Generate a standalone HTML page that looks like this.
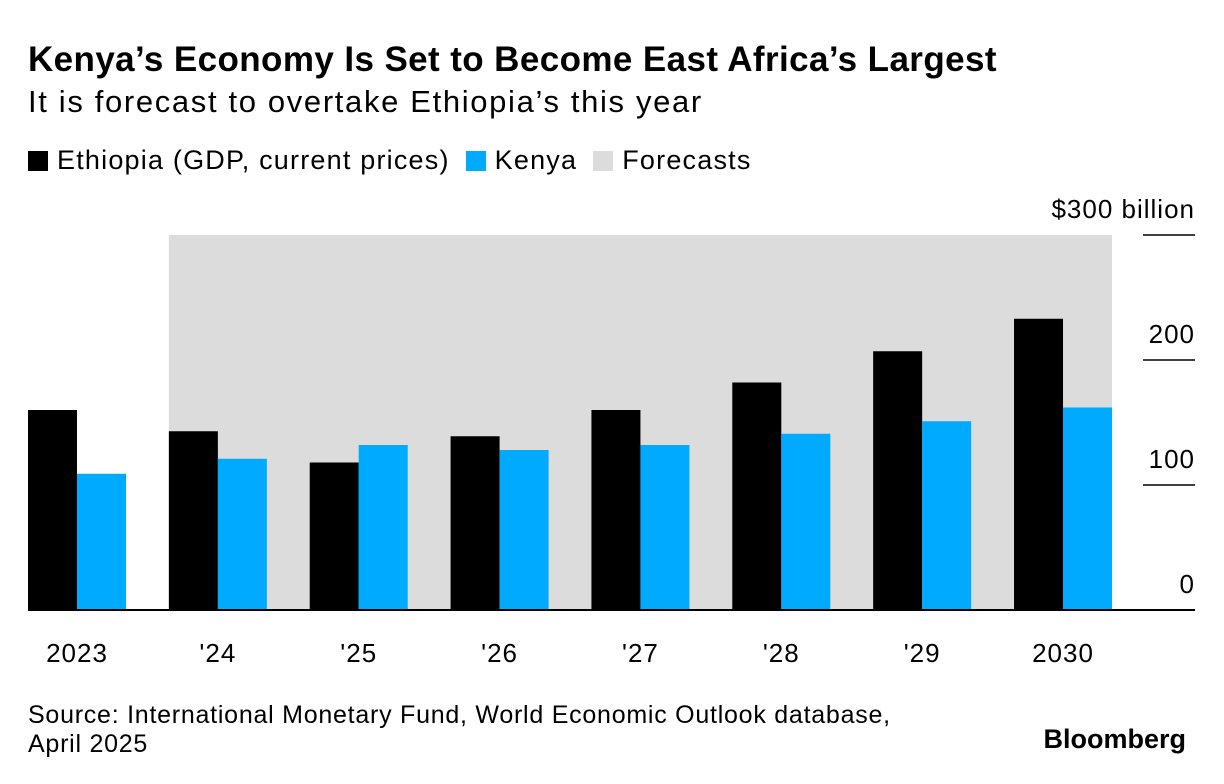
<!DOCTYPE html>
<html><head><meta charset="utf-8"><style>
body{margin:0;background:#fff;width:1224px;height:784px;overflow:hidden;font-family:"Liberation Sans",sans-serif;color:#000}
.t{position:absolute;white-space:nowrap}
</style></head><body>
<div class="t" style="left:28px;top:40px;font-size:35px;font-weight:bold;letter-spacing:0.4px">Kenya’s Economy Is Set to Become East Africa’s Largest</div>
<div class="t" style="left:28px;top:84px;font-size:31px;letter-spacing:1.65px">It is forecast to overtake Ethiopia’s this year</div>
<div class="t" style="left:28px;top:145px;font-size:27px;letter-spacing:1.2px;display:flex;align-items:center">
<span style="width:20px;height:20px;background:#000;margin-right:9px"></span><span style="margin-right:16px">Ethiopia (GDP, current prices)</span>
<span style="width:20px;height:20px;background:#00aaff;margin-right:9px"></span><span style="margin-right:16px">Kenya</span>
<span style="width:20px;height:20px;background:#dcdcdc;margin-right:9px"></span><span>Forecasts</span></div>
<svg id="c" width="1224" height="784" style="position:absolute;left:0;top:0"></svg>
<div class="t" style="left:28px;top:701px;font-size:25px;letter-spacing:0.75px;line-height:29px">Source: International Monetary Fund, World Economic Outlook database,<br>April 2025</div>
<div class="t" style="right:38px;top:724px;font-size:27px;font-weight:bold">Bloomberg</div>
<script>
const categories=["2023","'24","'25","'26","'27","'28","'29","2030"];
const ethiopia=[160,143,118,139,160,182,207,233];
const kenya=[109,121,132,128,132,141,151,162];
const yTicks=[0,100,200,300];
const yTickLabels=["0","100","200","$300 billion"];
const forecastStart=1;
const svg=document.getElementById('c');const NS='http://www.w3.org/2000/svg';
const y0=610,ppu=1.25,x0=28,pitch=140.86,bw=49;
const y=v=>y0-v*ppu, x=i=>x0+i*pitch;
function mk(t,a){const e=document.createElementNS(NS,t);for(const k in a)e.setAttribute(k,a[k]);svg.appendChild(e);return e;}
let r=mk('rect',{x:x(forecastStart),y:y(300),width:x(categories.length-1)+2*bw-x(forecastStart),height:300*ppu,fill:'#dcdcdc'});


categories.forEach((c,i)=>{
 let b=mk('rect',{x:x(i),y:y(ethiopia[i]),width:bw,height:ethiopia[i]*ppu,fill:'#000'});
 
 
 let k=mk('rect',{x:x(i)+bw,y:y(kenya[i]),width:bw,height:kenya[i]*ppu,fill:'#00aaff'});
 
 
 let t=mk('text',{x:x(i)+bw,y:662,'text-anchor':'middle','font-size':26,'letter-spacing':1,'font-family':'Liberation Sans'});t.textContent=c;
 
 
});
yTicks.forEach((v,i)=>{
 if(v>0){let l=mk('line',{x1:1143,x2:1195,y1:y(v),y2:y(v),stroke:'#000','stroke-width':1.5});
 
 }
 let t=mk('text',{x:1195,y:y(v)-17,'text-anchor':'end','font-size':26,'letter-spacing':1,'font-family':'Liberation Sans'});t.textContent=yTickLabels[i];
 
 
});
let base=mk('line',{x1:28,x2:1195,y1:y0,y2:y0,stroke:'#000','stroke-width':2});


</script>
</body></html>
